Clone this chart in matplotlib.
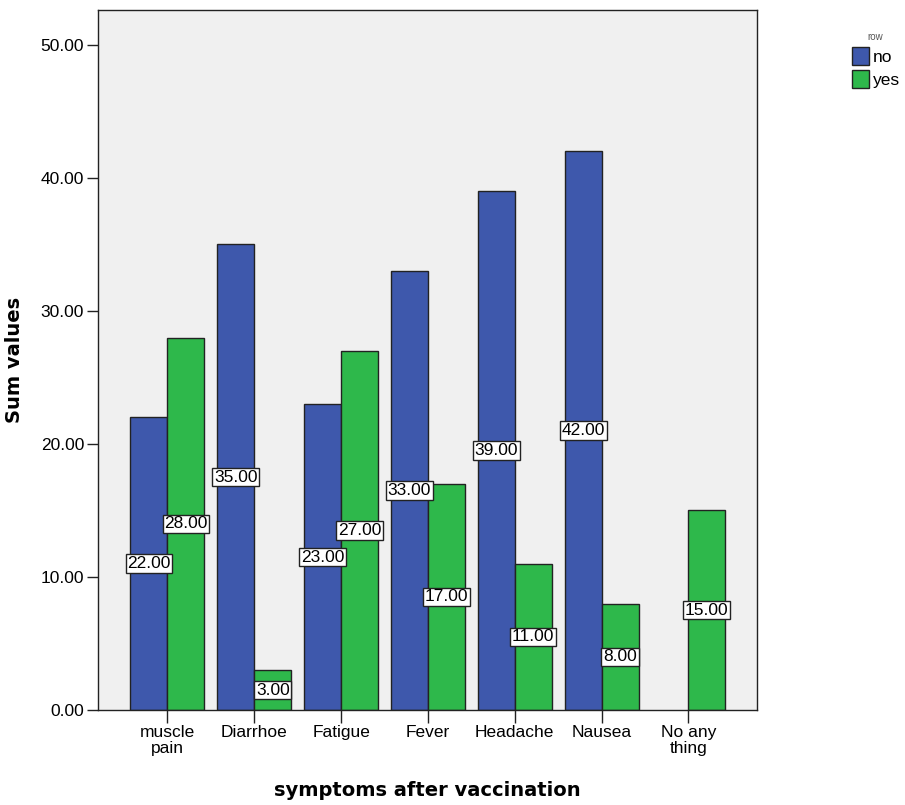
import numpy as np
import matplotlib.pyplot as plt
from matplotlib.patches import Patch

# ── Data ──────────────────────────────────────────────────────────────────────
categories = ["muscle\npain", "Diarrhoe", "Fatigue", "Fever", "Headache", "Nausea", "No any\nthing"]
no_values  = [22, 35, 23, 33, 39, 42, np.nan]
yes_values = [28, 3, 27, 17, 11, 8, 15]

BLUE  = "#3E58AC"
GREEN = "#2EB84B"
BG    = "#F0F0F0"

plt.rcParams["font.family"] = ["Liberation Sans", "DejaVu Sans"]

fig = plt.figure(figsize=(9.05, 8.05), dpi=100)
ax = fig.add_axes([98 / 905, 95 / 805, 659 / 905, 700 / 805])
ax.set_facecolor(BG)

x = np.arange(len(categories))
w = 0.426

for vals, offset, colour in [(no_values, -w / 2, BLUE), (yes_values, w / 2, GREEN)]:
    for xi, v in zip(x, vals):
        if np.isnan(v):
            continue
        ax.bar(xi + offset, v, width=w, color=colour, edgecolor="#222222",
               linewidth=1.0, zorder=2)
        ax.text(xi + offset, v / 2, f"{v:.2f}", ha="center", va="center",
                fontsize=12.5, zorder=3,
                bbox=dict(boxstyle="square,pad=0.1", facecolor="white",
                          edgecolor="#222222", linewidth=1.0))

ax.set_xlim(-0.8, len(categories) - 1 + 0.79)
ax.set_ylim(0, 52.63)
ax.set_xticks(x)
ax.set_xticklabels(categories, fontsize=12.5, linespacing=1.05)
ax.set_yticks(np.arange(0, 51, 10))
ax.set_yticklabels([f"{t:.2f}" for t in np.arange(0, 51, 10)], fontsize=12.5)
ax.tick_params(axis="x", length=9, width=1.0, color="#222222", pad=2)
ax.tick_params(axis="y", length=8, width=1.0, color="#222222", pad=2)
for s in ax.spines.values():
    s.set_color("#222222")
    s.set_linewidth(1.0)

ax.set_xlabel("symptoms after vaccination", fontsize=14, fontweight="bold",
              family="DejaVu Sans", labelpad=18)
ax.set_ylabel("Sum values", fontsize=14, fontweight="bold",
              family="DejaVu Sans", labelpad=12)

handles = [Patch(facecolor=BLUE, edgecolor="#222222", label="no"),
           Patch(facecolor=GREEN, edgecolor="#222222", label="yes")]
leg = fig.legend(handles=handles, title="row", loc="upper left",
                 bbox_to_anchor=(836 / 905, 1 - 16 / 805), frameon=False,
                 fontsize=12.5, title_fontsize=7, handlelength=1.0,
                 handleheight=1.2, handletextpad=0.2, labelspacing=0.3)
leg.get_title().set_color("#555555")

fig.savefig("out.png", dpi=100)
